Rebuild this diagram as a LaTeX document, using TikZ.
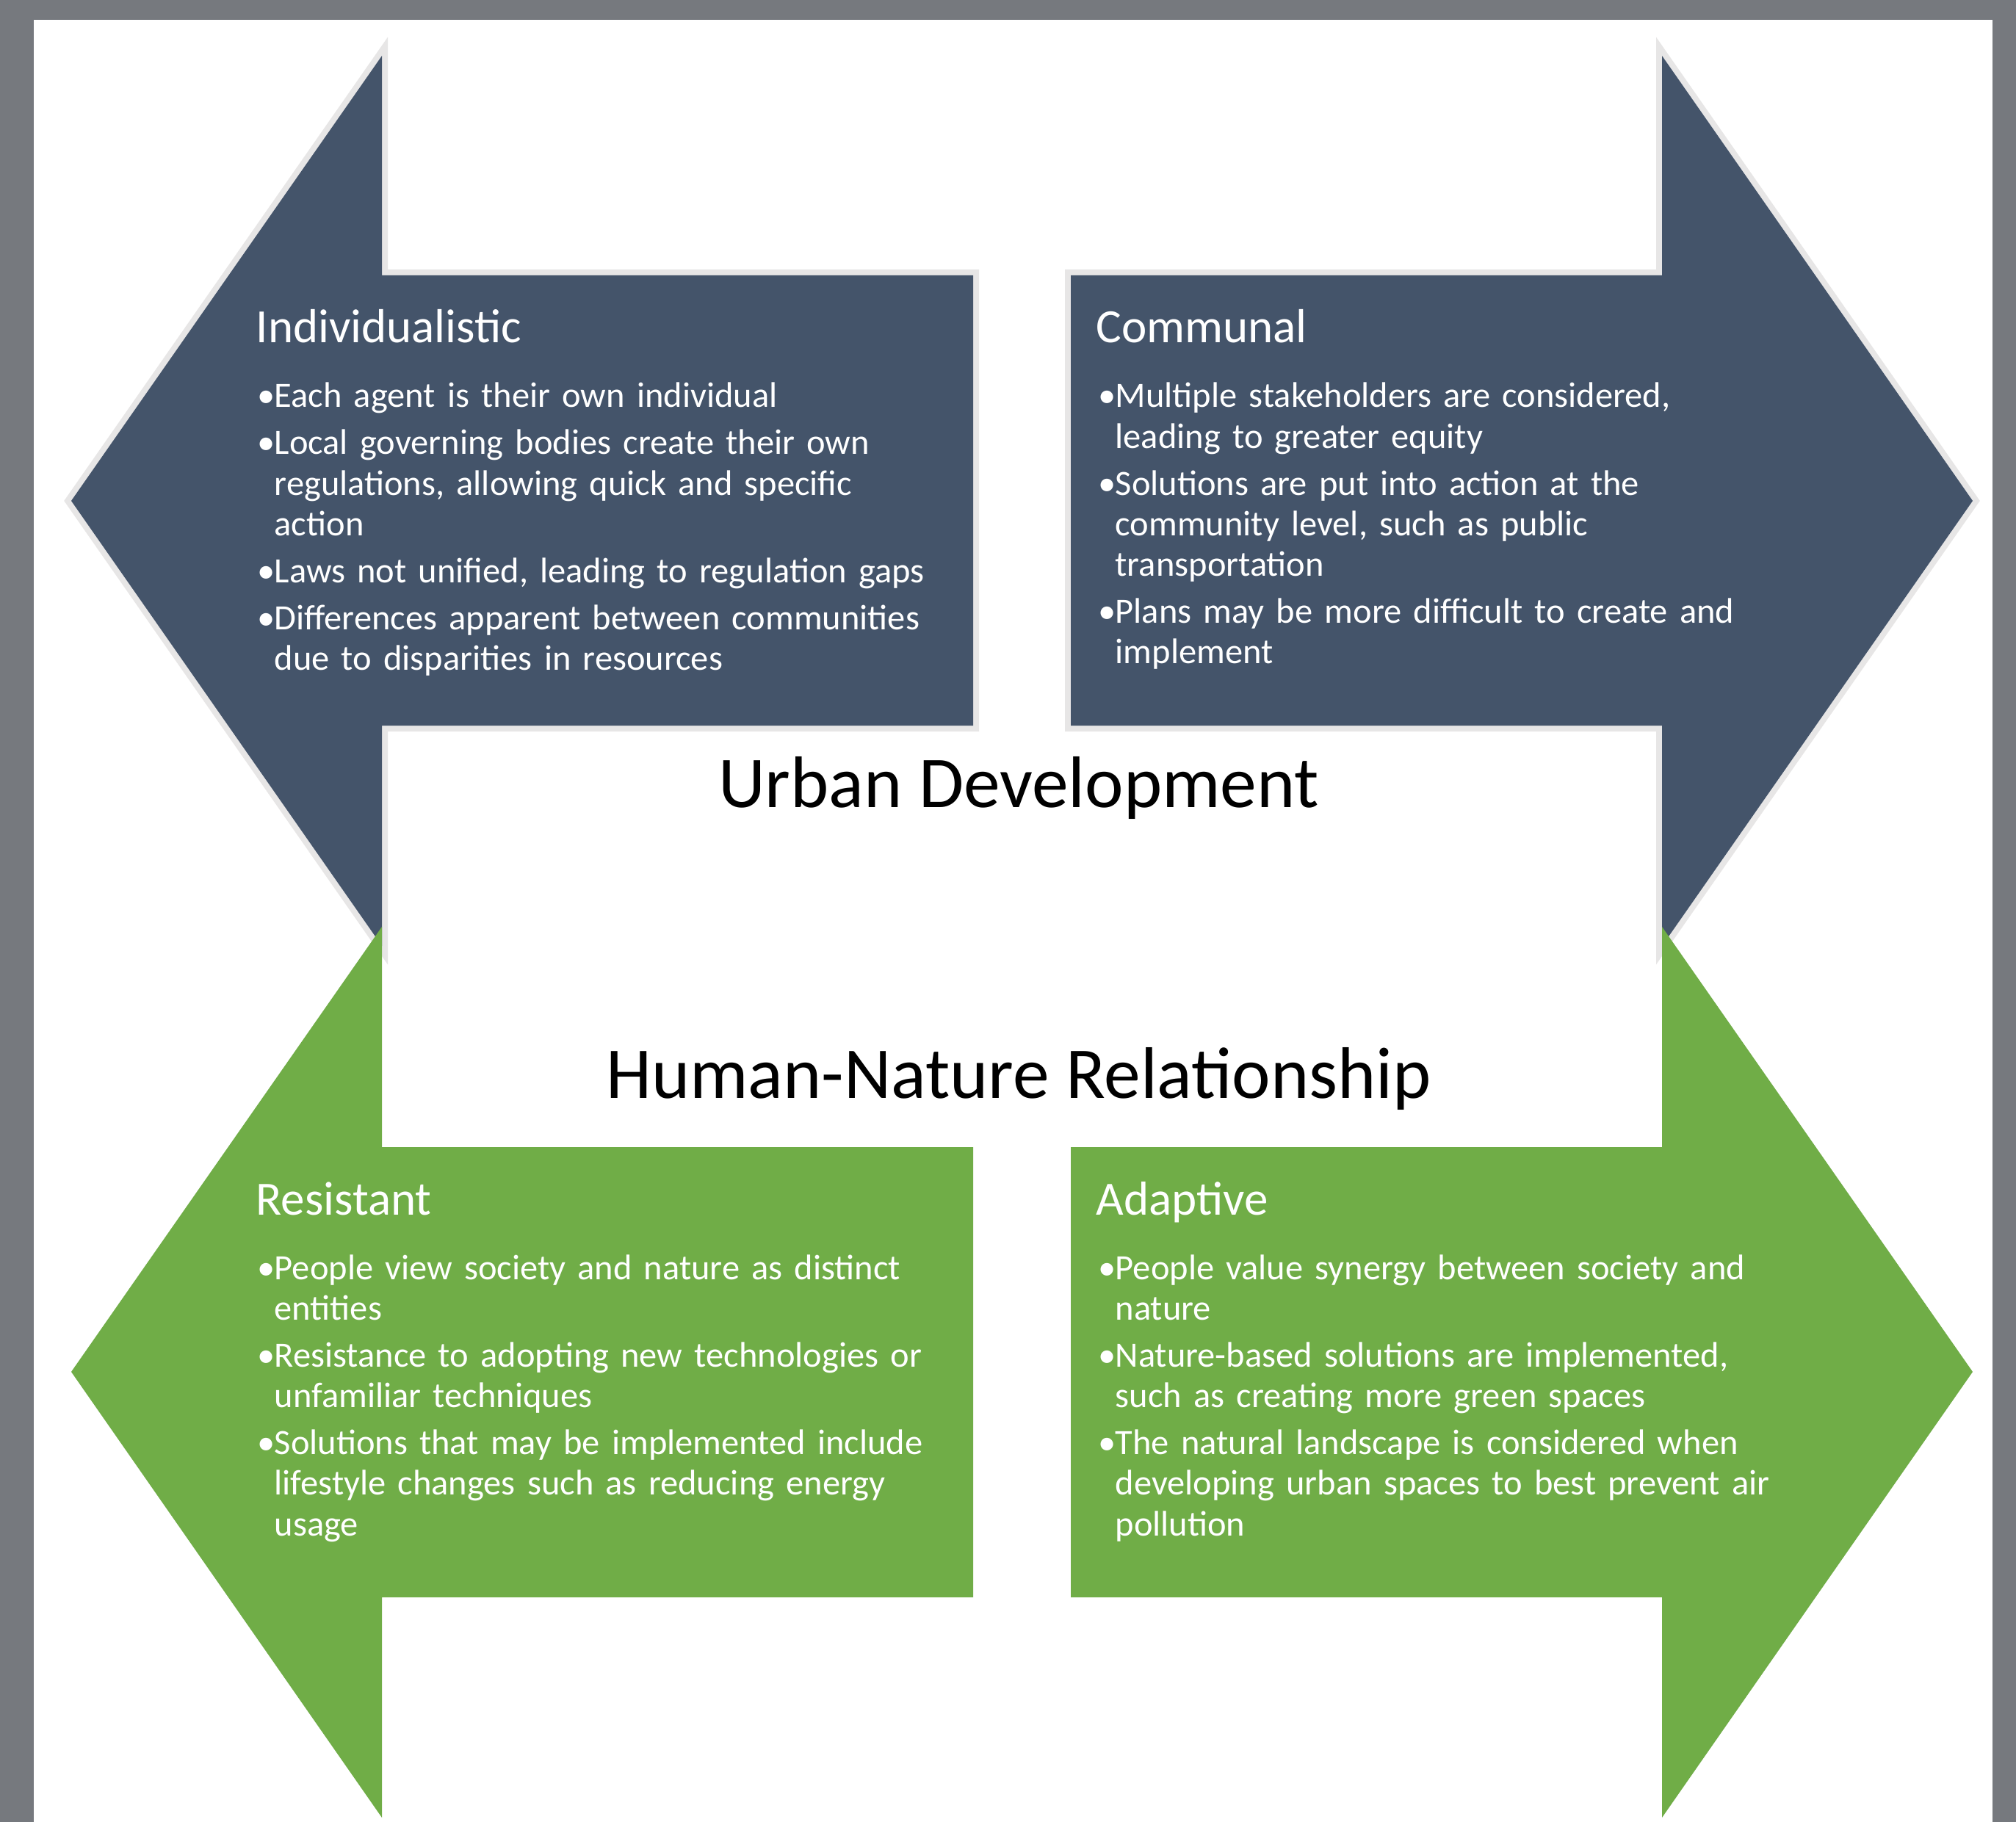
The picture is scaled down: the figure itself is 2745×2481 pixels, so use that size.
\documentclass[tikz,border=0pt]{standalone}
\usepackage{fontspec}
\setmainfont{Carlito}
\usepackage{xcolor}
\usepackage{tikz}
\usetikzlibrary{positioning}
\definecolor{slate}{RGB}{68,84,106}
\definecolor{leaf}{RGB}{112,173,71}
\definecolor{halo}{RGB}{231,230,230}
\definecolor{frame}{RGB}{118,121,126}
\tikzset{
  urban/.style={fill=slate,preaction={draw=halo,line width=1.6mm,line join=miter}},
  nature/.style={fill=leaf},
  hdr/.style={anchor=base west,inner sep=0pt,text=white,font=\fontsize{18.5}{22}\selectfont},
  pts/.style={anchor=base west,inner sep=0pt,text=white,align=left,text width=10.5cm,
              font=\fontsize{13.8}{15.75}\selectfont,execute at begin node=\setlength{\parskip}{2.4pt}},
  ttl/.style={anchor=base,inner sep=0pt,font=\fontsize{28.3}{34}\selectfont},
}
% one bullet, wrapped lines hang under the text
\newcommand{\bul}[1]{\hangindent=2.3mm\hangafter=1\noindent\makebox[2.3mm][l]{\textbullet}#1\par}

\begin{document}
\begin{tikzpicture}[x=0.1mm,y=-0.1mm]
  \fill[frame] (0,0) rectangle (2745,2481);
  \fill[white] (46,27) rectangle (2713,2481);

  % urban development arrows
  \path[urban] (97,682) -- (520,76) -- (520,375) -- (1325,375) -- (1325,988)
    -- (520,988) -- (520,1288) -- cycle;
  \path[urban] (2686,682) -- (2263,76) -- (2263,375) -- (1458,375) -- (1458,988)
    -- (2263,988) -- (2263,1288) -- cycle;
  % human-nature arrows
  \path[nature] (97,1868) -- (520,1262) -- (520,1562) -- (1325,1562) -- (1325,2175)
    -- (520,2175) -- (520,2475) -- cycle;
  \path[nature] (2686,1868) -- (2263,1262) -- (2263,1562) -- (1458,1562) -- (1458,2175)
    -- (2263,2175) -- (2263,2475) -- cycle;

  \node[ttl] (urb) at (1387,1099) {Urban Development};
  \node[ttl] (hnr) at (1387,1495) {Human-Nature Relationship};

  \node[hdr] (indiv) at (348,467) {Individualistic};
  \node[pts] (indivpts) at (350,555) {%
    \bul{Each agent is their own individual}
    \bul{Local governing bodies create their own\newline regulations, allowing quick and specific\newline action}
    \bul{Laws not unified, leading to regulation gaps}
    \bul{Differences apparent between communities\newline due to disparities in resources}};

  \node[hdr] (comm) at (1492,467) {Communal};
  \node[pts] (commpts) at (1495,555) {%
    \bul{Multiple stakeholders are considered,\newline leading to greater equity}
    \bul{Solutions are put into action at the\newline community level, such as public\newline transportation}
    \bul{Plans may be more difficult to create and\newline implement}};

  \node[hdr] (resist) at (348,1654) {Resistant};
  \node[pts] (resistpts) at (350,1742) {%
    \bul{People view society and nature as distinct\newline entities}
    \bul{Resistance to adopting new technologies or\newline unfamiliar techniques}
    \bul{Solutions that may be implemented include\newline lifestyle changes such as reducing energy\newline usage}};

  \node[hdr] (adapt) at (1492,1654) {Adaptive};
  \node[pts] (adaptpts) at (1495,1742) {%
    \bul{People value synergy between society and\newline nature}
    \bul{Nature-based solutions are implemented,\newline such as creating more green spaces}
    \bul{The natural landscape is considered when\newline developing urban spaces to best prevent air\newline pollution}};
\end{tikzpicture}
\end{document}
